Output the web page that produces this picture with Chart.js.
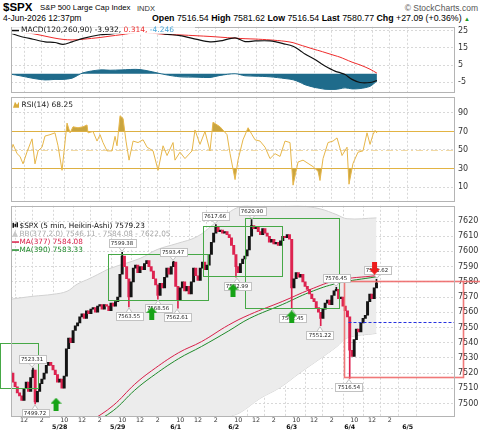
<!DOCTYPE html>
<html>
<head>
<meta charset="utf-8">
<title>$SPX 5 min</title>
<script src="https://cdn.jsdelivr.net/npm/chart.js@4.4.1/dist/chart.umd.min.js"></script>
<style>
  html, body { margin: 0; padding: 0; background: #fff; }
  #page { position: relative; width: 480px; height: 434px; overflow: hidden; }
  #page canvas { position: absolute; left: 0; }
  .t { position: absolute; white-space: nowrap; font-family: "Liberation Sans", Arial, sans-serif; color: #000; line-height: 1; }
</style>
</head>
<body>
<div id="page">
  <span class="t" style="left:3px;top:2px;font-size:11.5px;font-weight:bold">$SPX</span>
  <span class="t" style="left:40px;top:4px;font-size:7.8px">S&amp;P 500 Large Cap Index</span>
  <span class="t" style="left:137px;top:4.5px;font-size:7.5px;color:#333">INDX</span>
  <span class="t" style="right:2px;top:3.5px;font-size:8.5px;color:#555">&copy; StockCharts.com</span>
  <span class="t" style="left:3px;top:14px;font-size:8.5px">4-Jun-2026 12:37pm</span>
  <span class="t" style="left:152px;top:14px;font-size:8.8px"><b>Open</b> 7516.54 <b>High</b> 7581.62 <b>Low</b> 7516.54 <b>Last</b> 7580.77 <b>Chg</b> +27.09 (+0.36%) <span style="color:#1a9a1a;font-size:6px">&#9650;</span></span>
  <canvas id="macdChart" width="480" height="82" style="top:19px"></canvas>
  <canvas id="rsiChart" width="480" height="121" style="top:89px"></canvas>
  <canvas id="priceChart" width="480" height="236" style="top:198px"></canvas>
</div>
<script>
// x axis unit: trading hours since the 5/27 open (one session = 6.5 h)
const DAY = 6.5;
const X_MIN = 1.04, X_MAX = 50.8;

// tick labels
const hourLabels = ['10', '12', '2'];
const hourOffsets = [0.5, 2.5, 4.5];
const dateLabels = ['5/28', '5/29', '6/1', '6/2', '6/3', '6/4', '6/5'];
const priceTicks = [7500, 7510, 7520, 7530, 7540, 7550, 7560, 7570, 7580, 7590, 7600, 7610, 7620];
const macdTicks = [25, 20, 15, 10, 5, 0, -5, -10];
const rsiTicks = [90, 70, 50, 30, 10];
const rsiLevels = [70, 50, 30];

// Heikin-Ashi closes, one per 15 minutes
const may27 = [7520, 7514, 7511, 7507, 7505, 7502, 7510, 7514, 7508, 7517, 7522, 7501, 7508, 7513, 7516, 7520, 7525, 7527, 7525, 7522, 7519, 7514];
const may28 = [7516, 7510, 7518, 7536, 7543, 7540, 7548, 7551, 7553, 7557, 7559, 7556, 7561, 7559, 7562, 7563, 7560, 7564, 7565, 7562, 7565, 7564, 7561, 7566, 7564, 7567];
const may29 = [7570, 7585, 7597, 7590, 7582, 7570, 7580, 7589, 7591, 7586, 7590, 7588, 7592, 7594, 7590, 7587, 7582, 7578, 7571, 7579, 7576, 7583, 7589, 7585, 7590, 7593];
const jun1 = [7577, 7568, 7576, 7580, 7574, 7577, 7572, 7580, 7589, 7584, 7581, 7589, 7593, 7588, 7591, 7598, 7606, 7612, 7616, 7613, 7614, 7612, 7613, 7611, 7609, 7604];
const jun2 = [7598, 7590, 7586, 7592, 7595, 7597, 7601, 7610, 7617, 7615, 7616, 7613, 7611, 7615, 7612, 7610, 7606, 7608, 7605, 7606, 7604, 7607, 7610, 7609, 7611, 7608];
const jun3 = [7576, 7582, 7586, 7583, 7585, 7580, 7577, 7575, 7572, 7569, 7567, 7563, 7560, 7556, 7562, 7566, 7568, 7565, 7571, 7574, 7575, 7569, 7570, 7564, 7561, 7557];
const jun4 = [7535, 7531, 7542, 7549, 7547, 7553, 7556, 7558, 7567, 7572, 7569, 7576, 7579.23];
const firstSlot = [4, 0, 0, 0, 0, 0, 0]; // 5/27 starts at 10:30

// marked highs and lows
const pivotTimes = [3.40, 3.73, 13.48, 14.27, 17.52, 19.20, 19.65, 23.91, 26.37, 28.05, 32.60, 35.67, 37.47, 38.92, 42.06];
const pivotValues = [7523.31, 7499.72, 7599.38, 7563.55, 7568.56, 7593.47, 7562.61, 7617.66, 7582.99, 7620.90, 7562.45, 7551.22, 7576.45, 7516.54, 7581.62];
const pivotIsHigh = [true, false, true, false, false, true, false, true, false, true, false, false, true, false, true];

// Bollinger Bands (377, 2.0)
const bbTimes = [1.04, 3.51, 5.75, 7.32, 8.44, 9.90, 11.02, 12.14, 15.50, 17.41, 19.65, 21.89, 23.68, 25.25, 26.71, 28.95, 31.19, 33.43, 35.67, 37.58, 38.70, 42.0];
const bbUpper = [7568.6, 7570.5, 7571.8, 7573.8, 7578.4, 7582.3, 7585.6, 7588.8, 7595.4, 7601.2, 7605.2, 7609.7, 7617.6, 7624.8, 7629.4, 7631, 7631, 7630, 7628, 7624.1, 7621.5, 7622.05];
const bbLower = [7470, 7468, 7466, 7465, 7466, 7468, 7470, 7472, 7476, 7478, 7481, 7485, 7488, 7491, 7494, 7503.3, 7510.5, 7520.2, 7529.4, 7537.5, 7543.1, 7546.11];

// moving averages
const maTimes = [9.9, 12.5, 14.9, 16.8, 19.8, 22.4, 25.4, 27.8, 31.5, 34.5, 37.6, 42.0];
const ma377 = [7488, 7498.7, 7512.6, 7521.5, 7533.3, 7540.7, 7551.5, 7558.5, 7567.2, 7574.8, 7581.0, 7584.08];
const ma390 = [7486, 7495.3, 7508.7, 7517.5, 7529.4, 7537.5, 7547.6, 7556, 7565.2, 7573.1, 7579.0, 7583.33];

// signal arrows (1 = buy, -1 = sell)
const arrowTimes = [6.09, 16.81, 25.92, 32.50, 41.78];
const arrowValues = [7499.5, 7559.3, 7574.5, 7556.9, 7588.9];
const arrowDirs = [1, 1, 1, 1, -1];

// drawn zones [from, to, top, bottom]
const greenBoxes = [[-0.19, 4.04, 7539.5, 7510.2], [11.95, 23.15, 7598.2, 7568.0], [22.59, 31.38, 7616.9, 7583.6], [27.27, 37.84, 7622.2, 7563.0]];
const redBox = [38.31, 51.66, 7580.4, 7517.2];
const prevClose = 7553.68, prevCloseFrom = 38.81;

// MACD (120,260,90)
const macdTimes = [1.04, 2.05, 3.51, 4.85, 5.97, 6.87, 7.88, 9.11, 11.02, 12.14, 13.37, 15.50, 18.30, 19.98, 21.89, 23.34, 24.47, 26.15, 27.27, 28.39, 30.07, 31.75, 32.65, 33.43, 33.99, 35.11, 35.67, 36.23, 37.35, 37.91, 38.48, 39.26, 40.16, 41.28, 42.05];
const macdLine = [23.5, 21.7, 20.0, 18.5, 18.1, 17.0, 18.5, 20.5, 22.6, 23.0, 23.8, 25.5, 23.0, 22.1, 19.9, 18.5, 19.0, 20.8, 18.6, 19.0, 19.0, 17.2, 15.9, 13.5, 11.4, 8.2, 6.3, 4.5, 1.5, 0.6, -0.5, -3.3, -5.1, -5.1, -3.932];
const signalLine = [24.5, 24.0, 23.2, 21.8, 20.6, 19.9, 19.6, 20.0, 21.0, 21.8, 22.6, 24.0, 22.8, 22.5, 22.0, 21.6, 21.2, 20.6, 20.3, 20.1, 19.6, 18.8, 18.0, 16.7, 15.8, 14.0, 13.2, 12.3, 10.5, 9.6, 8.4, 6.7, 5.1, 2.6, 0.314];
const histValues = [-0.3, -1.2, -2.7, -3.6, -3.3, -3.3, -2.6, 0.5, 2.2, 2.0, 2.2, 2.4, -0.5, -1.8, -2.0, -2.2, -1.0, 0.0, -1.2, -1.4, -1.8, -2.8, -3.5, -5.0, -6.4, -8.0, -8.5, -9.0, -9.1, -8.7, -8.2, -8.8, -8.6, -7.3, -4.246];

// RSI(14)
const rsiTimes = [1.04, 1.27, 1.72, 2.05, 2.39, 2.84, 3.40, 3.73, 4.07, 4.52, 4.85, 5.41, 5.97, 6.31, 6.76, 7.32, 7.66, 7.99, 8.55, 9.11, 9.56, 9.67, 10.23, 10.68, 11.02, 11.35, 11.80, 12.36, 12.70, 12.92, 13.26, 13.60, 13.93, 14.27, 14.72, 15.28, 15.84, 16.29, 16.96, 17.52, 18.08, 18.53, 19.20, 19.42, 19.98, 20.54, 21.33, 21.66, 22.22, 22.78, 23.34, 23.68, 24.47, 25.25, 25.59, 26.15, 26.48, 27.04, 27.61, 28.05, 28.39, 28.95, 29.51, 30.07, 30.63, 31.19, 31.75, 32.31, 32.65, 33.21, 33.77, 34.33, 34.89, 35.45, 35.67, 36.01, 36.57, 37.13, 37.58, 38.14, 38.70, 38.92, 39.37, 39.93, 40.49, 40.94, 41.28, 41.61, 41.84, 42.06];
const rsiValues = [49, 56, 46, 43, 35, 48, 62, 35, 49, 53, 65, 66.5, 68.5, 54.5, 28, 79, 68.5, 75, 74, 75, 77, 68.5, 70, 59.6, 66.5, 58, 49, 49, 64.7, 54.5, 87, 84, 59.6, 39, 59.6, 58, 61, 53, 49, 28, 54.5, 44, 58, 39, 47.6, 40.7, 49, 71.6, 56, 70, 49, 80, 75, 66.5, 46, 18, 39, 61, 74, 66.5, 61, 59.6, 53, 40.7, 46, 43, 59.6, 58, 12, 37, 39, 35.5, 32, 27, 17, 40.7, 58, 59.6, 63, 44, 53, 13, 35.5, 47.6, 49, 68.5, 56, 66.5, 71, 68.25];

const FONT = '"DejaVu Sans", Verdana, sans-serif';
const UP_COLOR = '#141414', DOWN_COLOR = '#dd2350';
const GRID = '#d8d8d8';

const pts = (xs, ys) => xs.map((x, i) => ({ x: x, y: ys[i] }));

// candles: open = previous close
const candles = [];
let lastClose = null;
[may27, may28, may29, jun1, jun2, jun3, jun4].forEach((closes, d) => {
    closes.forEach((c, k) => {
        candles.push({ x: d * DAY + (firstSlot[d] + k) * 0.25, y: [lastClose === null ? c : lastClose, c] });
        lastClose = c;
    });
});
const wicks = pivotTimes.map((t, i) => {
    const c = candles.reduce((a, b) => Math.abs(b.x - t) < Math.abs(a.x - t) ? b : a);
    return { x: c.x, y: [pivotValues[i], c.y[1]], down: c.y[1] < c.y[0] };
});

// x ticks
const hourTicks = [];
for (let d = 0; d < dateLabels.length; d++) {
    hourOffsets.forEach((o, j) => hourTicks.push({ v: d * DAY + o, label: hourLabels[j] }));
}
hourTicks.push({ v: dateLabels.length * DAY, label: '' });
const shownHours = hourTicks.filter(t => t.v >= X_MIN && t.v <= X_MAX);
const dateTicks = dateLabels.map((l, i) => ({ v: (i + 1) * DAY, label: l }));

function hourAxis(showLabels) {
    return {
        type: 'linear', position: 'bottom', weight: 0, min: X_MIN, max: X_MAX, offset: false,
        afterBuildTicks: s => { s.ticks = shownHours.map(t => ({ value: t.v })); },
        afterFit: s => { s.height = showLabels ? 7 : 0; },
        grid: { color: GRID, drawTicks: false },
        border: { display: false, dash: [2, 2] },
        ticks: {
            display: showLabels, autoSkip: false, maxRotation: 0, padding: 0, color: '#333',
            font: { family: FONT, size: 6.3 },
            callback: (v, i) => shownHours[i] ? shownHours[i].label : ''
        }
    };
}

function rightAxis(min, max, ticks) {
    return {
        type: 'linear', position: 'right', min: min, max: max,
        afterBuildTicks: s => { s.ticks = ticks.map(v => ({ value: v })); },
        afterFit: s => { s.width = 25; },
        grid: { color: GRID, drawTicks: false },
        border: { display: false, dash: [2, 2] },
        ticks: { padding: 3, color: '#333', font: { family: FONT, size: 8 }, callback: v => String(v) }
    };
}

function baseOptions(scales, padTop, padBottom) {
    return {
        responsive: false, animation: false, events: [],
        layout: { padding: { left: 11, right: 0, top: padTop, bottom: padBottom } },
        plugins: { legend: { display: false }, tooltip: { enabled: false } },
        elements: { point: { radius: 0 }, line: { borderJoinStyle: 'round' } },
        scales: scales
    };
}

const framePlugin = {
    id: 'frame',
    afterDatasetsDraw(chart) {
        const { ctx, chartArea: a } = chart;
        ctx.save();
        ctx.strokeStyle = '#b4b4b4';
        ctx.lineWidth = 1;
        ctx.strokeRect(Math.round(a.left) + 0.5, Math.round(a.top) + 0.5, Math.round(a.right - a.left) - 1, Math.round(a.bottom - a.top) - 1);
        ctx.restore();
    }
};

// ---------- MACD ----------
new Chart(document.getElementById('macdChart'), {
    type: 'line',
    data: {
        datasets: [
            { data: pts(macdTimes, macdLine), borderColor: '#111', borderWidth: 1.2, tension: 0.3, order: 1 },
            { data: pts(macdTimes, signalLine), borderColor: '#ee2b2b', borderWidth: 1, tension: 0.3, order: 2 },
            { data: pts(macdTimes, histValues), borderColor: '#1f6b8b', backgroundColor: '#1f6b8b', borderWidth: 1, fill: 'origin', tension: 0.3, order: 3 }
        ]
    },
    options: baseOptions({ x: hourAxis(false), y: rightAxis(-11.3, 27.2, macdTicks) }, 6, 6),
    plugins: [framePlugin, {
        id: 'macdLegend',
        afterDatasetsDraw(chart) {
            const { ctx, chartArea: a } = chart;
            ctx.save();
            ctx.fillStyle = '#fff';
            ctx.fillRect(a.left + 1, a.top + 0.5, 183, 6.5);
            ctx.fillStyle = '#111';
            ctx.fillRect(a.left + 1, a.top + 3, 7, 1.5);
            ctx.font = '7.5px ' + FONT;
            ctx.textBaseline = 'middle';
            let x = a.left + 10;
            const y = a.top + 3.6;
            [['MACD(120,260,90) -3.932,', '#111'], [' 0.314,', '#ee2b2b'], [' -4.246', '#4aa6d6']].forEach(p => {
                ctx.fillStyle = p[1];
                ctx.fillText(p[0], x, y);
                x += ctx.measureText(p[0]).width;
            });
            ctx.restore();
        }
    }]
});

// ---------- RSI ----------
const rsiPts = pts(rsiTimes, rsiValues);
new Chart(document.getElementById('rsiChart'), {
    type: 'line',
    data: {
        datasets: [
            { data: rsiPts, borderColor: '#e6b64a', borderWidth: 1, fill: { target: { value: 70 }, above: '#c9a540', below: 'rgba(0,0,0,0)' } },
            { data: rsiPts, borderColor: 'rgba(0,0,0,0)', borderWidth: 1, fill: { target: { value: 30 }, above: 'rgba(0,0,0,0)', below: '#c9a540' } }
        ]
    },
    options: baseOptions({ x: hourAxis(false), y: rightAxis(-6.4, 107.4, rsiTicks) }, 6, 6),
    plugins: [framePlugin, {
        id: 'rsiLevels',
        beforeDatasetsDraw(chart) {
            const { ctx, chartArea: a, scales: { y } } = chart;
            ctx.save();
            rsiLevels.forEach(v => {
                const py = Math.round(y.getPixelForValue(v)) + 0.5;
                ctx.beginPath();
                ctx.lineWidth = 1.2;
                if (v === 50) { ctx.strokeStyle = '#f1d9a4'; ctx.setLineDash([7, 3, 2, 3]); }
                else { ctx.strokeStyle = '#e3b443'; ctx.setLineDash([]); }
                ctx.moveTo(a.left, py);
                ctx.lineTo(a.right, py);
                ctx.stroke();
            });
            ctx.restore();
        },
        afterDatasetsDraw(chart) {
            const { ctx, chartArea: a } = chart;
            ctx.save();
            ctx.fillStyle = '#d9ac3c';
            ctx.beginPath();
            ctx.moveTo(a.left + 2, a.top + 11);
            ctx.lineTo(a.left + 4, a.top + 5);
            ctx.lineTo(a.left + 6, a.top + 8);
            ctx.lineTo(a.left + 8, a.top + 5);
            ctx.lineTo(a.left + 8, a.top + 11);
            ctx.closePath();
            ctx.fill();
            ctx.fillStyle = '#222';
            ctx.font = '7.5px ' + FONT;
            ctx.textBaseline = 'middle';
            ctx.fillText('RSI(14) 68.25', a.left + 10.5, a.top + 8.3);
            ctx.restore();
        }
    }]
});

// ---------- Price ----------
function makeArrow(color, up) {
    const c = document.createElement('canvas');
    c.width = 11; c.height = 13;
    const g = c.getContext('2d');
    g.fillStyle = color;
    g.beginPath();
    if (up) {
        g.moveTo(5.5, 0); g.lineTo(11, 6); g.lineTo(8, 6); g.lineTo(8, 13); g.lineTo(3, 13); g.lineTo(3, 6); g.lineTo(0, 6);
    } else {
        g.moveTo(5.5, 13); g.lineTo(11, 7); g.lineTo(8, 7); g.lineTo(8, 0); g.lineTo(3, 0); g.lineTo(3, 7); g.lineTo(0, 7);
    }
    g.closePath();
    g.fill();
    return c;
}
const upArrow = makeArrow('#17a317', true);
const downArrow = makeArrow('#ec1c1c', false);
const arrows = arrowTimes.map((t, i) => ({ x: t, y: arrowValues[i], dir: arrowDirs[i] }));

function pivotLabel(ctx, px, py, text, high) {
    ctx.font = '5.4px ' + FONT;
    const w = Math.ceil(ctx.measureText(text).width) + 4, h = 8;
    const bx = Math.round(px - w / 2) + 0.5;
    const by = high ? Math.round(py - 5 - h) + 0.5 : Math.round(py + 5) + 0.5;
    ctx.fillStyle = '#fff';
    ctx.strokeStyle = '#c2c2c2';
    ctx.lineWidth = 1;
    ctx.beginPath();
    const ey = high ? by + h : by;
    ctx.moveTo(px - 3, ey);
    ctx.lineTo(px, high ? py - 1 : py + 1);
    ctx.lineTo(px + 3, ey);
    ctx.closePath();
    ctx.fill();
    ctx.stroke();
    ctx.fillRect(bx, by, w, h);
    ctx.strokeRect(bx, by, w, h);
    ctx.fillStyle = '#222';
    ctx.textAlign = 'center';
    ctx.textBaseline = 'middle';
    ctx.fillText(text, px, by + h / 2);
}

const priceOverlay = {
    id: 'priceOverlay',
    beforeDatasetDraw(chart, args) {
        if (args.index !== 0) return;
        const { ctx, chartArea: a, scales: { x, y } } = chart;
        const px = v => Math.round(x.getPixelForValue(v)) + 0.5;
        const py = v => Math.round(y.getPixelForValue(v)) + 0.5;
        ctx.save();
        // previous close
        ctx.strokeStyle = '#2530e0';
        ctx.lineWidth = 1;
        ctx.setLineDash([3, 2]);
        ctx.beginPath();
        ctx.moveTo(px(prevCloseFrom), py(prevClose));
        ctx.lineTo(a.right, py(prevClose));
        ctx.stroke();
        ctx.setLineDash([]);
        // zones
        ctx.strokeStyle = '#46a846';
        greenBoxes.forEach(b => {
            ctx.strokeRect(px(b[0]), py(b[2]), px(b[1]) - px(b[0]), py(b[3]) - py(b[2]));
        });
        ctx.strokeStyle = 'rgba(238,105,105,0.9)';
        ctx.lineWidth = 1.6;
        ctx.strokeRect(px(redBox[0]), py(redBox[2]), px(redBox[1]) - px(redBox[0]), py(redBox[3]) - py(redBox[2]));
        ctx.beginPath();
        ctx.moveTo(px(redBox[1]), py(redBox[2]));
        ctx.lineTo(chart.width, py(redBox[2]));
        ctx.stroke();
        // high / low labels
        pivotTimes.forEach((t, i) => {
            pivotLabel(ctx, x.getPixelForValue(t), y.getPixelForValue(pivotValues[i]), pivotValues[i].toFixed(2), pivotIsHigh[i]);
        });
        ctx.restore();
    },
    afterDraw(chart) {
        const { ctx, chartArea: a } = chart;
        const l = a.left;
        ctx.save();
        ctx.font = '7.3px ' + FONT;
        ctx.textBaseline = 'middle';
        // candle icon
        ctx.fillStyle = '#111';
        ctx.fillRect(l + 1.5, a.top + 17, 1.5, 5);
        ctx.fillRect(l + 3.5, a.top + 18, 1.5, 3);
        ctx.fillRect(l + 5.5, a.top + 16.5, 1.5, 5);
        ctx.fillText('$SPX (5 min, Heikin-Ashi) 7579.23', l + 8.5, a.top + 20);
        // BB icon
        ctx.fillStyle = '#c8c8c8';
        ctx.beginPath();
        ctx.moveTo(l + 1, a.top + 31); ctx.lineTo(l + 4, a.top + 25); ctx.lineTo(l + 7, a.top + 31); ctx.closePath();
        ctx.fill();
        ctx.fillStyle = '#a9a9a9';
        ctx.fillText('BB(377,2.0) 7546.11 - 7584.08 - 7622.05', l + 8.5, a.top + 28);
        ctx.fillStyle = '#d81f48';
        ctx.fillRect(l + 1, a.top + 35.5, 7, 1.5);
        ctx.fillText('MA(377) 7584.08', l + 8.5, a.top + 36.3);
        ctx.fillStyle = '#1f8a2a';
        ctx.fillRect(l + 1, a.top + 43.5, 7, 1.5);
        ctx.fillText('MA(390) 7583.33', l + 8.5, a.top + 44.3);
        ctx.restore();
    }
};

const priceScales = {
    x: hourAxis(true),
    xd: {
        type: 'linear', position: 'bottom', weight: 1, min: X_MIN, max: X_MAX, offset: false,
        afterBuildTicks: s => { s.ticks = dateTicks.map(t => ({ value: t.v })); },
        afterFit: s => { s.height = 10; },
        grid: { display: false, drawTicks: false },
        border: { display: false },
        ticks: {
            autoSkip: false, maxRotation: 0, padding: 0, color: '#111',
            font: { family: FONT, size: 6.3, weight: 'bold' },
            callback: (v, i) => dateTicks[i] ? dateTicks[i].label : ''
        }
    },
    y: rightAxis(7491.1, 7630.0, priceTicks)
};

new Chart(document.getElementById('priceChart'), {
    type: 'line',
    data: {
        datasets: [
            {
                data: arrows, showLine: false, pointRadius: 6, order: 0,
                pointStyle: c => (c.raw && c.raw.dir < 0) ? downArrow : upArrow
            },
            {
                type: 'bar', data: wicks, barThickness: 1, grouped: false, order: 2,
                backgroundColor: c => (c.raw && c.raw.down) ? DOWN_COLOR : UP_COLOR
            },
            {
                type: 'bar', data: candles, barThickness: 2.3, grouped: false, minBarLength: 1.5, order: 3,
                backgroundColor: c => (c.raw && c.raw.y[1] < c.raw.y[0]) ? DOWN_COLOR : UP_COLOR
            },
            { data: pts(maTimes, ma377), borderColor: '#d81f48', borderWidth: 1, tension: 0.4, order: 5 },
            { data: pts(maTimes, ma390), borderColor: '#1f8a2a', borderWidth: 1, tension: 0.4, order: 6 },
            { data: pts(bbTimes, bbUpper), borderColor: '#d2d2d2', borderWidth: 1, backgroundColor: '#ececec', fill: '+1', tension: 0.4, order: 9 },
            { data: pts(bbTimes, bbLower), borderColor: '#d2d2d2', borderWidth: 1, tension: 0.4, order: 10 }
        ]
    },
    options: baseOptions(priceScales, 6, 0),
    plugins: [framePlugin, priceOverlay]
});
</script>
</body>
</html>
